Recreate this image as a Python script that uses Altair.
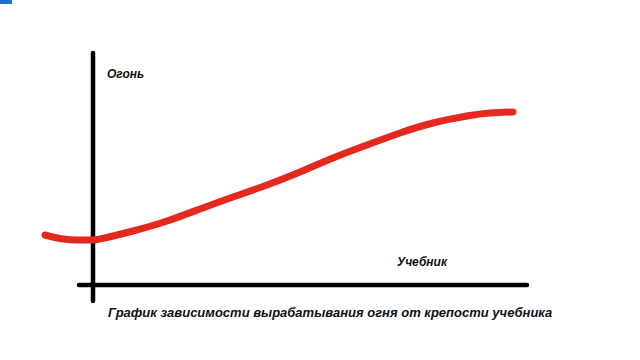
import altair as alt
import pandas as pd

# Curve values (x: "Учебник", y: "Огонь"), origin at axes crossing
curve_x = [-48, -33, -18, -3, 7, 40, 74, 107, 140, 174, 207, 240, 274, 307, 340, 374, 397, 420]
curve_y = [50, 46.5, 45, 45, 46, 54, 64, 76, 88, 100, 113, 127, 140, 152, 162, 169, 172, 173]

# axis line extents (data units)
vaxis_y = [-16, 232]
haxis_x = [-14, 434]

y_label = "Огонь"
x_label = "Учебник"
caption = "График зависимости вырабатывания огня от крепости учебника"

df = pd.DataFrame({"x": curve_x, "y": curve_y})

xs = alt.Scale(domain=[-93, 547], nice=False, zero=False)
ys = alt.Scale(domain=[-75, 285], nice=False, zero=False)
FONT = "Liberation Sans"

curve = alt.Chart(df).mark_line(color="#e5291e", strokeWidth=7, strokeCap="round",
                                interpolate="natural").encode(
    x=alt.X("x:Q", scale=xs, axis=None),
    y=alt.Y("y:Q", scale=ys, axis=None),
)

vaxis = alt.Chart(pd.DataFrame({"x": [0], "y1": [vaxis_y[0]], "y2": [vaxis_y[1]]})).mark_rule(
    color="black", strokeWidth=4.5, strokeCap="round").encode(
    x=alt.X("x:Q", scale=xs, axis=None),
    y=alt.Y("y1:Q", scale=ys, axis=None),
    y2="y2:Q",
)

haxis = alt.Chart(pd.DataFrame({"y": [0], "x1": [haxis_x[0]], "x2": [haxis_x[1]]})).mark_rule(
    color="black", strokeWidth=4.5, strokeCap="round").encode(
    y=alt.Y("y:Q", scale=ys, axis=None),
    x=alt.X("x1:Q", scale=xs, axis=None),
    x2="x2:Q",
)

def label(text, px, py, size):
    return alt.Chart(pd.DataFrame({"t": [text]})).mark_text(
        font=FONT, fontSize=size, fontWeight="bold", fontStyle="italic",
        align="left", baseline="middle", color="#111111").encode(
        x=alt.value(px), y=alt.value(py), text="t:N")

blue = alt.Chart(pd.DataFrame({"a": [0]})).mark_rect(color="#1a6fd8").encode(
    x=alt.value(0), x2=alt.value(12), y=alt.value(0), y2=alt.value(4))

chart = alt.layer(
    blue, vaxis, haxis, curve,
    label(y_label, 107, 74, 12),
    label(x_label, 397, 262, 12),
    label(caption, 108, 313, 13),
).properties(
    width=640, height=360, padding=0, autosize="none", background="white"
).configure_view(stroke=None)

chart.save("out.html", embed_options={"renderer": "svg", "actions": False})
